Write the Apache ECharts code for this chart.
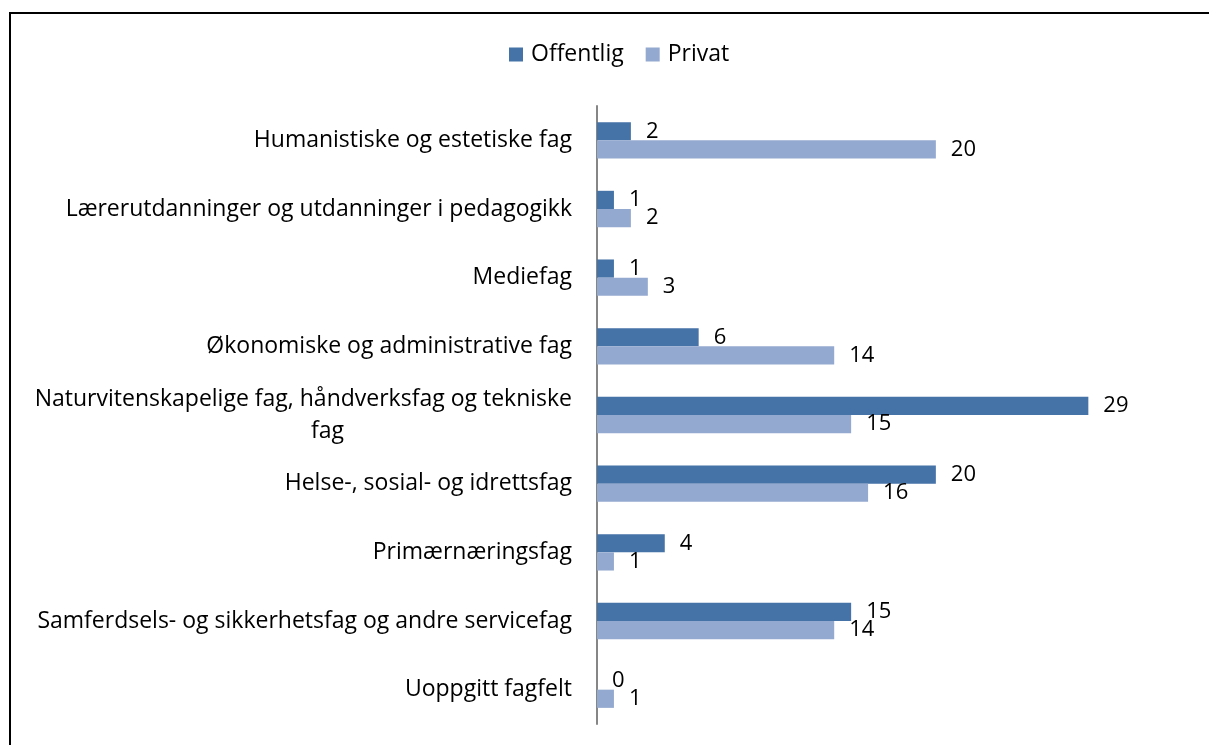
<!DOCTYPE html>
<html lang="no">
<head>
    <meta charset="UTF-8">
    <title>Fagfelt</title>
    <style>
        html,body{
            margin:0;
            padding:0;
            background:#fff;
        }
        #chart{
            width:1209px;
            height:745px;
        }
    </style>
</head>
<body>
<div id="chart"></div>
<script src="https://cdn.jsdelivr.net/npm/echarts@6/dist/echarts.min.js"></script>
<script>
    var categories = [
        'Humanistiske og estetiske fag',
        'Lærerutdanninger og utdanninger i pedagogikk',
        'Mediefag',
        'Økonomiske og administrative fag',
        'Naturvitenskapelige fag, håndverksfag og tekniske fag',
        'Helse-, sosial- og idrettsfag',
        'Primærnæringsfag',
        'Samferdsels- og sikkerhetsfag og andre servicefag',
        'Uoppgitt fagfelt'
    ];
    var offentlig = [2, 1, 1, 6, 29, 20, 4, 15, 0];
    var privat = [20, 2, 3, 14, 15, 16, 1, 14, 1];

    var fontFamily = '"Open Sans", "Noto Sans", sans-serif';
    var fontSize = 23;
    var labelStyle = {
        show: true,
        position: 'right',
        distance: 15,
        color: '#000',
        fontSize: 22,
        fontFamily: fontFamily
    };

    var option = {
        backgroundColor: '#fff',
        animation: false,
        textStyle: {fontFamily: fontFamily},
        graphic: [{
            type: 'rect',
            shape: {x: 10, y: 13, width: 1400, height: 900},
            style: {fill: 'none', stroke: '#000', lineWidth: 2},
            silent: true
        }],
        legend: {
            top: 38,
            left: 504,
            icon: 'rect',
            itemWidth: 14,
            itemHeight: 14,
            itemGap: 22,
            textStyle: {
                fontSize: fontSize,
                color: '#000',
                fontFamily: fontFamily,
                padding: [0, 0, 0, 3]
            },
            data: ['Offentlig', 'Privat']
        },
        grid: {left: 597, right: 19, top: 106, bottom: 21},
        xAxis: {
            type: 'value',
            min: 0,
            max: 35,
            show: false
        },
        yAxis: {
            type: 'category',
            inverse: true,
            data: categories,
            axisLine: {lineStyle: {color: '#868686', width: 2}},
            axisTick: {show: false},
            axisLabel: {
                margin: 25,
                fontSize: fontSize,
                lineHeight: 32,
                color: '#000',
                fontFamily: fontFamily,
                formatter: function (v) {
                    if (v.indexOf('Naturvitenskapelige') === 0) {
                        return 'Naturvitenskapelige fag, håndverksfag og tekniske\n{c|fag}';
                    }
                    return v;
                },
                rich: {
                    c: {
                        fontSize: fontSize,
                        lineHeight: 32,
                        color: '#000',
                        fontFamily: fontFamily,
                        padding: [0, 228, 0, 0]
                    }
                }
            }
        },
        series: [
            {
                name: 'Offentlig',
                type: 'bar',
                data: offentlig,
                barGap: '0%',
                barCategoryGap: '47%',
                itemStyle: {color: '#4572A7'},
                label: labelStyle
            },
            {
                name: 'Privat',
                type: 'bar',
                data: privat,
                itemStyle: {color: '#93A9CF'},
                label: labelStyle
            }
        ]
    };

    var chart = echarts.init(document.getElementById('chart'));
    chart.setOption(option);
</script>
</body>
</html>
